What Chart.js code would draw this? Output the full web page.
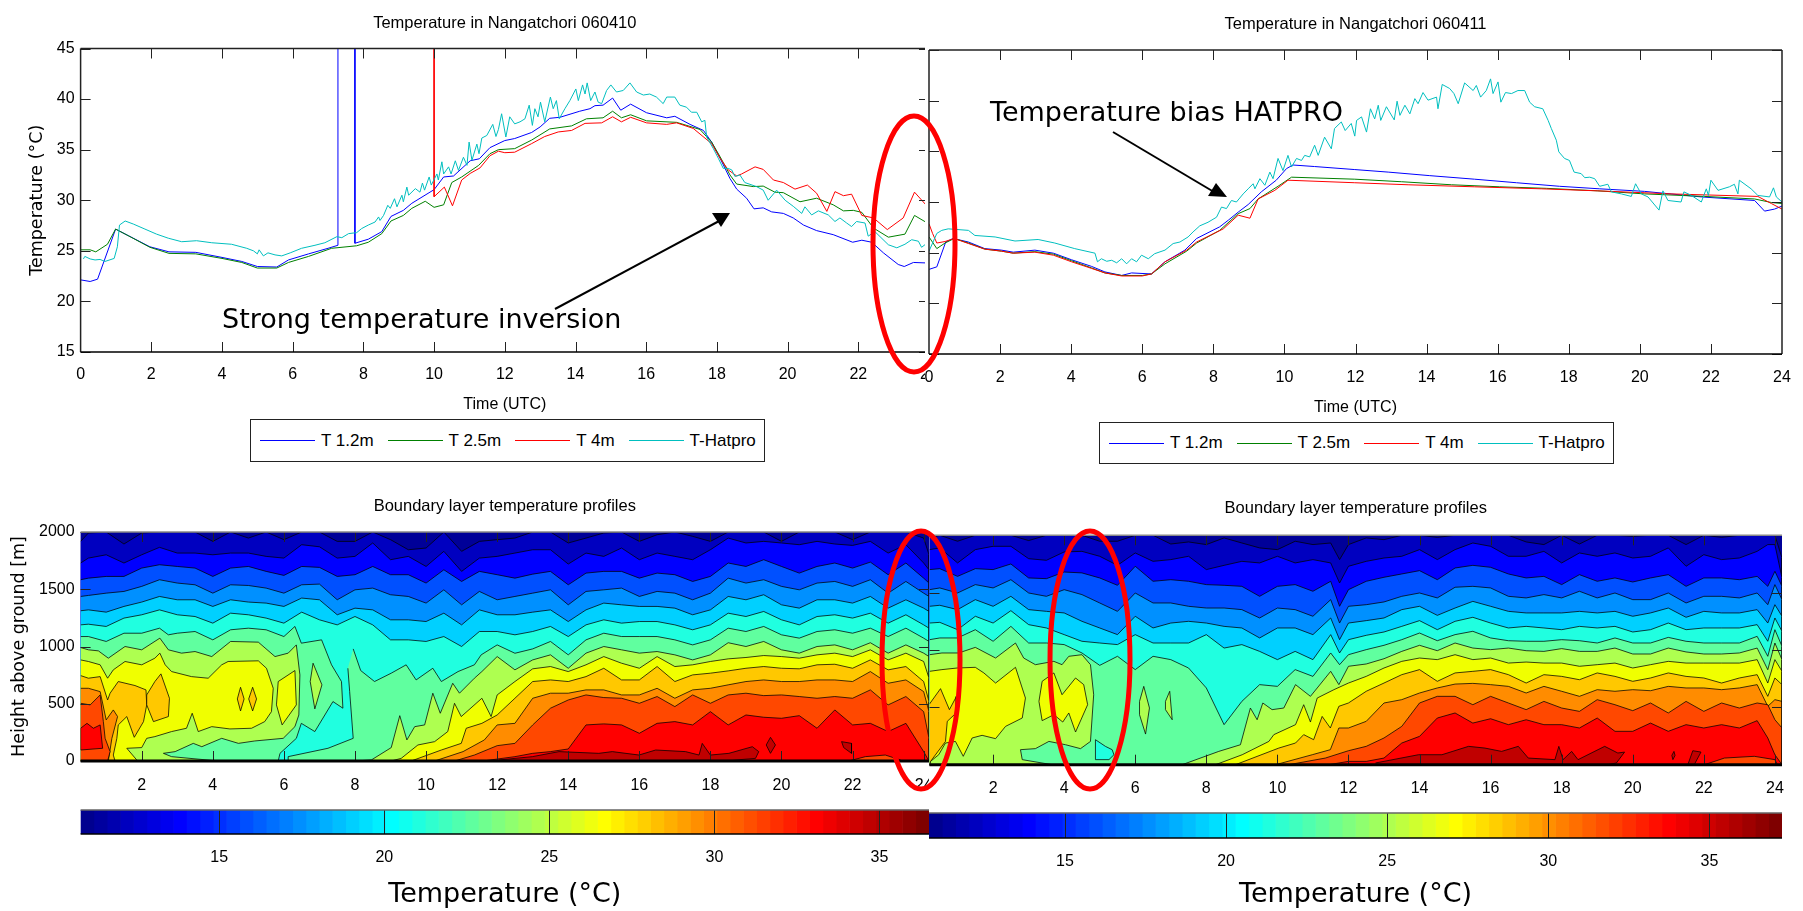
<!DOCTYPE html>
<html>
<head>
<meta charset="utf-8">
<title>Temperature in Nangatchori</title>
<script src="https://cdn.jsdelivr.net/npm/chart.js@4"></script>
<style>
  html, body { margin: 0; background: #fff; }
  #page { position: relative; width: 1803px; height: 911px; overflow: hidden; background: #fff; }
  canvas { position: absolute; background: #fff; }
  .legend { position: absolute; box-sizing: border-box; border: 1.5px solid #222; background: #fff;
            display: flex; align-items: center; padding-left: 9px; white-space: nowrap;
            font: 17px "Liberation Sans", sans-serif; color: #000; }
  .legend i { display: inline-block; flex: none; width: 55px; height: 0; border-top: 1.2px solid; margin-right: 6px; }
  .legend span { flex: none; margin-right: 14px; }
  svg { position: absolute; left: 0; top: 0; pointer-events: none; }
</style>
</head>
<body>
<div id="page">
  <canvas id="panelA" width="935" height="414" style="left:0;top:0"></canvas>
  <canvas id="panelC" width="935" height="320" style="left:0;top:480px"></canvas>
  <canvas id="barA" width="935" height="111" style="left:0;top:800px"></canvas>
  <canvas id="panelB" width="878" height="417" style="left:925px;top:0"></canvas>
  <canvas id="panelD" width="874" height="325" style="left:929px;top:480px"></canvas>
  <canvas id="barB" width="874" height="111" style="left:929px;top:800px"></canvas>
  <div class="legend" id="legendA" style="left:250px;top:419px;width:515px;height:43px"></div>
  <div class="legend" id="legendB" style="left:1099px;top:422px;width:515px;height:42px"></div>
  <svg width="1803" height="911">
    <g fill="none" stroke="#f00" stroke-width="5">
      <ellipse cx="914" cy="244" rx="41" ry="128"/>
      <ellipse cx="921" cy="660" rx="39" ry="129"/>
      <ellipse cx="1090" cy="660" rx="40" ry="129"/>
    </g>
    <g stroke="#000" stroke-width="2">
      <line x1="555" y1="309" x2="721" y2="220"/>
      <line x1="1113" y1="132" x2="1214" y2="192"/>
    </g>
    <polygon points="712,213 730,213 721,227" fill="#000"/>
    <polygon points="1216,183 1208,196 1227,197" fill="#000"/>
    <g font-family="DejaVu Sans" fill="#000">
      <text x="222" y="328" font-size="27">Strong temperature inversion</text>
      <text x="990" y="121" font-size="27">Temperature bias HATPRO</text>
    </g>
  </svg>
</div>

<script>
/* tick labels and names */
const seriesNames = ['T 1.2m', 'T 2.5m', 'T 4m', 'T-Hatpro'];
const seriesColors = ['#0000ff', '#008000', '#ff0000', '#00bfbf'];
const hourTicks = [0, 2, 4, 6, 8, 10, 12, 14, 16, 18, 20, 22, 24];
const tempTicks = [15, 20, 25, 30, 35, 40, 45];
const heightTicks = [0, 500, 1000, 1500, 2000];
const barTicks = [15, 20, 25, 30, 35];

/* 060410 station and radiometer temperatures (°C) */
const hoursA12 = [0,.27,.48,.99,1.35,1.96,2.5,3.26,4,4.56,5,5.55,5.88,6.45,7,7.28,7.28,7.76,7.76,8.14,8.52,8.78,9.13,9.37,10,10.27,10.55,11.02,11.28,11.58,12,12.28,12.76,13,13.27,13.56,14.12,14.41,14.55,14.78,15.05,15.28,15.56,16.01,16.58,16.81,17.24,17.62,17.85,18.09,18.37,18.56,18.84,19.05,19.31,19.55,19.88,20.16,20.45,20.82,21.29,21.84,22.1,22.38,22.71,23.13,23.3,23.56,23.95,24];
const tempsA12 = [22.13,21.97,22.2,27.15,26.5,25.4,24.9,24.85,24.35,23.95,23.45,23.4,24.1,24.7,25.25,25.55,50,50,25.75,26.15,26.9,28.4,29,29.7,31.05,32.3,32.4,33.9,34.1,35.2,35.9,36.1,36.7,37.25,38.1,38.2,38.8,39.05,39.35,39.4,40.1,38.9,39.5,38.65,38.15,38.3,37.5,36.9,35.75,34.15,32.15,31.1,30.2,29.15,29.25,28.85,28.7,28.25,27.55,27,26.6,25.85,26.05,25.85,24.8,23.65,23.45,23.85,23.8,23.5];
const hoursA25 = [0,.27,.43,.76,.99,1.4,1.96,2.5,3.26,4,4.56,5,5.55,5.88,6.45,7.1,7.81,8.14,8.52,8.78,9.13,9.37,9.75,10,10.27,10.5,10.78,11.26,11.58,11.82,12.28,12.76,13.27,13.89,14.31,14.78,15.05,15.3,15.56,16.01,16.86,17.52,17.85,18.09,18.37,18.56,19.03,19.31,19.64,19.88,20.35,20.82,21.29,21.58,21.86,22.1,22.43,22.85,23.32,23.59,24];
const tempsA25 = [25.1,25.1,24.9,25.65,27.15,26.4,25.35,24.75,24.7,24.25,23.85,23.3,23.3,23.85,24.45,25.25,25.5,25.85,26.7,27.95,28.5,29.2,29.9,29.3,29.55,31.75,32.3,33.45,34.6,35,35.1,35.95,37.05,37.35,38.05,38.15,38.8,38.15,38.45,37.85,37.7,37,35.75,34.3,32.5,31.6,31.35,31.4,30.8,30.75,29.85,30.2,29.55,28.95,29,28.8,27.25,26.35,26.65,28.5,27.65];
const hoursA40 = [10,10,10.29,10.52,10.78,11.02,11.3,11.58,11.82,12,12.28,12.76,13.13,13.51,13.89,14.27,14.74,15.05,15.3,15.56,16.01,16.58,16.86,17.33,17.85,18.09,18.32,18.56,18.7,19.08,19.31,19.6,19.88,20.21,20.56,20.82,21.11,21.34,21.58,21.81,22.1,22.43,22.82,23.27,23.59,23.95,24];
const tempsA40 = [50,30.35,31.3,29.45,32,32.65,33.2,34.4,34.85,34.7,34.75,35.6,36.3,36.75,36.9,37.6,37.65,38.25,37.75,38.2,37.65,37.5,37.65,37.1,35.6,34.15,33,32.4,32.6,33.3,33.05,32,31.75,31.1,31.5,30.7,28.9,30.85,30.45,30.6,28.5,28.25,27.1,28.25,30.8,29.4,29];
const hoursAHat = [.08,.12,.27,.41,.55,.69,.95,1.04,1.1,1.26,1.49,1.82,2.15,2.48,2.86,3.28,3.71,4.27,4.7,4.89,5,5.05,5.17,5.3,5.5,5.69,5.93,6.25,6.63,6.91,7.25,7.39,7.58,7.81,7.95,8.14,8.33,8.43,8.47,8.57,8.69,8.76,8.88,8.95,9.09,9.13,9.23,9.28,9.47,9.6,9.67,9.73,9.86,9.92,10.08,10.12,10.22,10.27,10.41,10.48,10.6,10.69,10.83,10.93,10.99,11.07,11.21,11.27,11.35,11.49,11.66,11.75,11.82,11.91,12.03,12.14,12.28,12.43,12.57,12.69,12.78,12.85,12.94,13.01,13.13,13.29,13.37,13.46,13.54,13.7,13.84,14.01,14.08,14.2,14.27,14.33,14.43,14.55,14.64,14.74,14.88,15,15.16,15.35,15.54,15.73,15.92,16.1,16.29,16.48,16.58,16.81,16.95,17.14,17.28,17.43,17.57,17.66,17.71,17.9,18.04,18.18,18.32,18.42,18.51,18.65,18.79,19.12,19.31,19.45,19.69,19.93,20.16,20.4,20.49,20.68,20.87,21.15,21.34,21.48,21.67,21.81,21.95,22.19,22.28,22.47,22.85,23.09,23.32,23.51,23.7,23.79,23.94,23.98];
const tempsAHat = [24.2,24.45,24.2,24.1,24.15,23.95,24.25,25.4,27.55,27.95,27.65,27.15,26.65,26.25,25.9,26,25.8,25.65,25.25,25,24.7,25.1,24.5,24.8,24.6,24.5,24.8,25.25,25.55,25.8,26.4,26.3,26.7,26.8,27.2,27.55,27.85,28.35,28,28.5,29.5,29.2,30.15,29.35,30.5,29.85,31.3,30.5,31.15,30.8,31.7,31,32.3,31.5,32.6,32,33.8,32.6,33.3,32.6,33.9,32.95,34.25,33.45,35.75,33.95,35.55,34.6,36.15,36.4,37.5,36.3,37,38.55,36.25,38.25,37.55,37.75,38.05,39.4,37.4,39.05,38.25,39.7,37.75,40.2,39.05,39.85,38.05,39.05,39.85,41,39.85,41.4,40.5,41.6,39.85,40.7,39.7,39.55,40.85,41.4,40.7,40.85,41.6,40.7,40.4,40.5,40.2,39.55,40.2,40.2,39.4,39.2,38.7,38.7,37.75,37.9,36.25,35.1,34.15,33.15,33.15,33,32.35,32.5,31.75,31.35,31,30,31,30,29.4,28.7,29.35,28.55,28.95,28.55,27.9,28.25,27.75,27.4,27.9,27.75,26.45,26.9,25.6,25.3,25.65,26.1,25.95,25.35,25.75,25.1];

/* 060411 station and radiometer temperatures (°C) */
const hoursB12 = [0,.22,.47,.68,1.11,1.57,2.04,2.37,2.98,3.5,4.01,4.57,4.95,5.42,5.7,6.26,6.64,7.2,7.53,8.18,8.42,8.7,8.98,9.35,9.77,10.06,10.24,10.85,11.98,12.92,14.09,15.35,16.53,17.74,18.87,20.13,21.73,23.23,23.51,23.79,24];
const tempsB12 = [23.35,23.6,26.05,26.4,26.05,25.4,25.25,25.05,25.25,24.95,24.3,23.65,23.1,22.75,23,22.9,24.1,25.25,26.4,27.55,28.2,29,29.75,31,32.15,33.3,33.65,33.5,33.2,32.95,32.6,32.25,31.9,31.55,31.3,31.05,30.5,30.15,29.1,29.3,29.6];
const hoursB25 = [0,.22,.45,.71,1.11,1.57,2.04,2.37,2.98,3.5,4.01,4.57,4.95,5.42,6,6.26,6.64,7.25,7.53,8.18,8.7,9.03,9.26,9.82,10.2,11.98,13.29,14.7,16.06,17.37,18.82,20.13,21.82,23.23,23.7,24];
const tempsB25 = [26.55,25.4,25.95,26.4,25.95,25.35,25.15,24.95,25.1,24.85,24.2,23.5,23,22.75,22.75,22.9,23.9,25.15,25.95,27.2,28.85,29.35,30.3,31.55,32.45,32.25,32,31.7,31.5,31.35,31.1,30.8,30.55,30.3,29.95,29.85];
const hoursB40 = [0,.1,.22,.45,.71,1.11,1.57,2.04,2.37,2.98,3.5,4.01,4.57,4.95,5.42,6,6.26,6.64,7.25,7.53,8.28,8.7,9.03,9.26,9.73,10.1,11.98,13.48,15.35,17.23,18.82,20.88,23.32,23.7,24];
const tempsB40 = [27.85,26.9,25.95,26.1,26.4,25.9,25.35,25.15,24.95,25.05,24.75,24.1,23.45,23,22.7,22.7,22.9,24.1,25.25,26.05,27.35,28.7,28.4,30.3,31.15,32.15,31.9,31.7,31.5,31.3,31.1,30.8,30.55,29.85,29.3];
const hoursBHat = [0,.22,.36,.54,1.11,1.29,1.86,2.42,3.07,3.54,4.1,4.67,4.74,4.85,5,5.14,5.28,5.42,5.56,5.7,5.84,5.98,6.17,6.35,6.64,6.87,7.06,7.29,7.43,7.62,7.85,8.09,8.23,8.37,8.51,8.65,8.84,8.98,9.12,9.17,9.31,9.45,9.59,9.68,9.82,9.96,10.1,10.2,10.34,10.48,10.57,10.71,10.85,10.95,11.13,11.32,11.41,11.6,11.71,11.88,11.98,12.03,12.17,12.31,12.42,12.54,12.64,12.71,12.87,13.09,13.17,13.25,13.39,13.53,13.67,13.76,13.9,14.04,14.28,14.32,14.44,14.65,14.77,14.89,15.07,15.31,15.4,15.52,15.68,15.8,15.87,16.01,16.09,16.22,16.39,16.57,16.76,16.9,17.04,17.27,17.42,17.51,17.65,17.72,17.88,18.02,18.15,18.35,18.45,18.59,18.73,18.87,19.1,19.2,19.48,19.76,19.88,20.04,20.23,20.54,20.65,20.79,21.16,21.24,21.45,21.73,21.87,21.93,22,22.2,22.52,22.66,22.76,22.8,23.13,23.32,23.65,23.76,23.84,24];
const tempsBHat = [25.15,26.9,27.2,27.35,27.2,26.7,26.55,26.15,26.3,25.95,25.4,24.95,24.1,24.4,24.15,24.25,24,24.4,23.9,24.4,24.1,24.75,24.4,24.9,25.25,25.9,26.05,26.55,27.05,27.65,28,28.5,29.5,29.35,30.15,30,30.8,31.3,31.8,31.3,32.3,31.65,32.95,32.3,34.3,33.1,34.6,33.45,34.3,34.1,34.6,34.45,35.6,34.6,36.4,35.25,37.25,37.9,37.05,37.75,36.5,38.05,38.4,36.9,39.2,38.2,39.55,38.05,39.4,38.1,39.95,38.55,39.55,38.7,40.2,39.7,40.8,40.05,40.35,39.2,41.6,41.2,40.7,39.7,41.75,41,41.5,40.35,41,42.15,40.7,41.85,39.85,40.8,40.7,41,41,39.85,39.4,39.2,38.05,37.25,36.1,34.95,34.3,34.1,32.95,32.8,32.4,32.45,32.3,31.55,31.75,31,30.8,30.55,31.8,30.8,30.5,29.2,31.1,30.15,30,31,30.65,30,31.3,30.65,32.15,31.15,31.5,31.75,30.8,32.15,31.3,30.65,30.5,31.4,30.5,30];

/* boundary layer contours, 060410: heights (m) of each temperature level */
const earlyC = [.28,.5,1,1.5,2,2.5,3,3.5,4,4.5,5,5.5,6,6.5,7,7.5,8,8.5,9,9.5,10,10.5,11,11.5,12];
const lateC = [12.5,13,13.5,14,14.5,15,15.5,16,16.5,17,17.5,18,18.5,19,19.5,20,20.5,21,21.5,22,22.5,23,23.5,24,24.15];
const levelCTop = [1918,1991,2000,1895,1991,2000,2000,2000,1918,2000,1947,2000,1933,2000,2000,1918,1918,2000,1933,1845,1860,2000,1831,1918,1933,1947,2000,2000,1904,1947,1991,2000,1918,1976,2000,1962,1918,2000,2000,2000,1918,2000,2000,2000,1933,2000,2000,2000,1947,1801];
const levelC0 = [1729,1772,1801,1729,1801,1866,1816,1816,1801,1816,1816,1787,1772,1889,1871,1772,1787,1904,1758,1787,1699,1831,1656,1772,1787,1816,1845,1845,1720,1816,1787,1860,1758,1816,1787,1758,1845,1947,1904,1918,1904,1889,1918,1895,1883,1918,1816,1889,1729,1670];
const levelC1 = [1583,1597,1612,1612,1685,1714,1699,1685,1612,1685,1699,1656,1621,1699,1691,1612,1627,1699,1627,1627,1554,1670,1568,1656,1627,1597,1632,1656,1539,1641,1656,1656,1597,1641,1627,1568,1612,1729,1699,1758,1699,1641,1699,1729,1685,1737,1627,1729,1597,1554];
const levelC2 = [1437,1446,1466,1481,1525,1583,1554,1539,1466,1539,1533,1510,1466,1539,1545,1408,1495,1510,1452,1437,1379,1495,1364,1481,1408,1437,1466,1495,1364,1481,1495,1510,1437,1481,1466,1408,1466,1597,1554,1583,1525,1495,1554,1568,1525,1583,1466,1568,1466,1437];
const levelC3 = [1312,1320,1300,1350,1388,1437,1408,1408,1350,1408,1388,1379,1350,1423,1408,1277,1335,1320,1233,1233,1218,1291,1189,1320,1277,1277,1300,1320,1218,1320,1379,1364,1350,1350,1335,1277,1320,1437,1408,1452,1364,1335,1408,1408,1379,1437,1335,1408,1335,1306];
const levelC4 = [1189,1195,1175,1248,1277,1320,1277,1262,1204,1291,1277,1248,1204,1300,1233,1189,1262,1189,1058,1058,1044,1087,1000,1131,1131,1102,1131,1175,1087,1189,1233,1204,1218,1218,1189,1146,1189,1291,1262,1306,1233,1189,1262,1277,1248,1291,1204,1277,1189,1160];
const hoursC5West = [.28,.5,1,1.5,2,2.5,2.75,3,3.5,4,4.5,5,5.5,6,6.31,6.49,7.06,7.34,7.62,7.66,7.38,6.87,6.49,6.35,5.89,5.84,.28];
const levelC5West = [1087,1087,1044,1116,1116,1160,1102,1116,1131,1058,1146,1160,1146,1087,1175,1029,1058,840,694,461,519,257,329,198,67,0,0];
const hoursC5East = [7.95,8.16,8.55,9.02,9.44,9.72,10.19,10.43,10.9,11.36,11.55,12,...lateC,24.15,6.12,6.12,7.24,7.95,7.85,7.8];
const levelC5East = [979,790,694,767,840,708,810,694,781,840,927,1014,941,979,1044,927,1058,1116,1087,1087,1087,1058,1014,1058,1160,1131,1175,1102,1073,1131,1146,1116,1160,1087,1160,1073,1044,0,0,38,111,198,606,810];
const hoursC6Oval = [6.82,7.07,6.87,6.74,6.82];
const levelC6Oval = [854,665,455,694,854];
const hoursC6West = [.28,.5,.78,1.06,1.53,2,2.51,2.75,3.12,3.5,3.97,4.5,5.28,5.75,6.12,6.35,6.45,6.42,6.31,5.98,5.18,4.72,4.25,3.69,3.45,2.94,2.61,2.84,4.15,.28];
const levelC6West = [991,971,962,898,1000,971,1073,971,942,956,912,1044,1038,912,942,1014,752,402,300,198,175,154,198,125,154,82,67,38,0,0];
const hoursC6East = [7.98,8.46,9.02,9.26,9.46,9.68,9.96,10.19,10.4,10.75,10.94,11.36,11.57,12,...lateC,24.15];
const levelC6East = [0,9,117,396,184,300,315,592,417,679,592,723,781,912,796,883,927,810,942,1000,971,942,956,927,883,927,1033,1000,1044,971,942,1000,1014,971,1033,942,1014,942,912,0];
const hoursC7West = [.28,.5,.83,1.04,1.2,1.53,2,2.37,2.51,2.66,2.84,3.4,3.87,4.25,4.43,5.28,5.51,5.7,5.65,5.46,5.09,4.48,3.97,3.59,3.42,3.26,2.84,2.37,2.14,2,1.58,1.86,1.86,.28];
const levelC7West = [883,869,840,723,796,869,840,898,942,840,781,737,723,840,869,875,810,635,431,344,286,280,300,257,417,286,257,213,198,117,111,9,0,0];
const hoursC7East = [9.02,9.3,9.77,10.24,10.61,10.8,10.99,11.57,11.83,12,...lateC,24.15];
const levelC7East = [0,23,140,169,257,504,388,548,388,577,694,805,825,781,840,912,854,810,912,825,840,869,892,904,921,912,898,927,942,912,971,883,942,869,723,0];
const hoursC7Oval = [5.84,6.31,6.35,5.95,5.79,5.84];
const levelC7Oval = [694,790,490,315,490,694];
const hoursC8West = [.28,.5,.83,1.04,1.11,1.34,1.81,2.12,2.14,2.05,1.79,1.58,1.34,1.3,1.2,1.25,.28];
const levelC8West = [746,723,737,533,592,694,659,621,490,344,207,388,315,198,52,0,0];
const hoursC8Lobe = [2.14,2.37,2.54,2.78,2.75,2.33,2.14,2.14];
const levelC8Lobe = [577,694,761,548,388,344,490,577];
const hoursC8OvalA = [4.78,4.88,4.78,4.69,4.78];
const levelC8OvalA = [644,542,437,542,644];
const hoursC8OvalB = [5.12,5.23,5.12,5.01,5.12];
const levelC8OvalB = [644,542,437,542,644];
const hoursC8East = [9.58,10.43,10.99,11.13,11.57,12,...lateC,24.15];
const levelC8East = [0,96,154,286,329,402,548,694,708,694,737,810,708,708,825,694,752,767,787,810,825,810,805,840,845,810,883,796,825,694,519,0];
const hoursC9West = [.28,.5,.83,1,1.2,1.32,1.16,1.06,.28];
const levelC9West = [635,635,606,359,446,388,198,0,0];
const hoursC9East = [10.24,11.04,11.64,12,...lateC,24.15];
const levelC9East = [0,82,184,315,329,548,592,592,621,621,577,577,635,548,621,635,665,694,708,694,694,708,708,694,781,679,708,606,431,0];
const hoursC10West = [.28,.55,.83,.92,.97,1.11,1.04,.28];
const levelC10West = [504,490,577,344,198,82,0,0];
const hoursC10East = [10.8,11.36,12,...lateC,24.15];
const levelC10East = [0,52,134,154,315,461,533,577,554,548,504,563,475,577,504,577,592,571,577,563,548,563,548,621,490,563,431,198,0];
const hoursC11West = [.28,.46,.64,.83,.9,.28,.28];
const levelC11West = [286,329,286,315,111,96,286];
const hoursC11East = [11.6,12,...lateC];
const levelC11East = [0,17,38,67,82,105,315,324,315,242,329,344,315,431,315,402,382,373,396,286,446,315,329,257,329,82,0];
const hoursC10Sliver = [21.89,22.36,22.92,23.35,23.35];
const levelC10Sliver = [0,38,52,9,0];
const hoursC12 = [12.05,12.99,13.74,14.86,15.24,15.99,16.46,17.3,17.68,17.77,18,18.52,19.18,19.36,19.27,18.61,12.05];
const levelC12 = [9,38,82,67,82,52,96,82,52,154,52,67,125,82,23,6,0];
const hoursC12OvalA = [19.69,19.83,19.69,19.57,19.69];
const levelC12OvalA = [207,140,67,140,207];
const hoursC12OvalB = [21.69,21.97,21.97,21.75,21.69];
const levelC12OvalB = [169,154,67,117,169];

/* boundary layer contours, 060411 */
const earlyD = [.21,.5,1,1.5,2,2.5,3,3.5,4,4.5,5,5.5,6,6.5,7,7.5,8,8.5,9,9.5,10,10.5,11,11.5,11.75,12];
const lateD = [12.5,13,13.5,14,14.5,15,15.5,16,16.5,17,17.5,18,18.5,19,19.5,20,20.5,21,21.5,22,22.5,23,23.5,23.8,24,24.2];
const levelDTop = [1977,2000,1948,2000,2000,2000,1954,2000,2000,2000,1948,1948,2000,2000,1924,1942,1919,1977,1933,1890,1875,1948,1919,1933,1788,1919,1977,1962,2000,2000,1982,2000,2000,2000,2000,1942,1919,2000,1924,2000,2000,1991,2000,2000,1919,2000,1982,2000,2000,2000,2000,1802];
const levelD0 = [1875,1890,1759,1875,1904,1904,1796,1782,1855,1860,1817,1738,1846,1773,1788,1817,1701,1738,1773,1759,1817,1759,1788,1759,1584,1730,1773,1802,1817,1875,1788,1875,1933,1904,1817,1817,1860,1759,1846,1817,1846,1802,1817,1890,1730,1831,1788,1802,1860,1919,1919,1628];
const levelD1 = [1701,1709,1642,1709,1701,1750,1628,1622,1680,1672,1628,1564,1730,1599,1613,1599,1570,1564,1555,1468,1555,1570,1512,1599,1381,1526,1599,1634,1663,1692,1613,1715,1738,1721,1663,1628,1642,1570,1657,1599,1628,1593,1628,1657,1555,1628,1628,1613,1642,1555,1686,1555];
const levelD2 = [1526,1541,1497,1570,1541,1613,1497,1468,1526,1483,1410,1337,1497,1410,1410,1381,1366,1366,1352,1279,1366,1352,1294,1439,1235,1381,1395,1419,1468,1497,1454,1547,1555,1541,1468,1454,1483,1454,1512,1454,1497,1439,1439,1497,1410,1468,1468,1454,1497,1395,1570,1439];
const levelD3 = [1381,1390,1352,1439,1381,1468,1352,1337,1323,1250,1192,1134,1294,1192,1235,1250,1235,1206,1192,1105,1192,1192,1134,1279,1090,1235,1256,1279,1352,1381,1302,1366,1424,1381,1337,1323,1323,1323,1337,1323,1337,1294,1323,1366,1285,1337,1323,1323,1352,1235,1395,1294];
const levelD4 = [1235,1241,1177,1294,1235,1343,1221,1192,1134,1076,1061,1047,1134,1061,1061,1061,1134,1017,1047,988,916,988,916,1134,974,1090,1128,1157,1206,1256,1177,1250,1285,1235,1192,1206,1192,1177,1206,1192,1206,1157,1177,1235,1177,1192,1192,1192,1221,1076,1279,1163];
const levelD5 = [1090,1105,1105,1177,1076,1206,1061,1061,1047,974,866,945,829,945,916,843,669,349,552,698,683,829,770,974,872,959,1003,1041,1090,1148,1081,1134,1163,1105,1081,1076,1076,1090,1081,1061,1105,1061,1061,1110,1076,1061,1061,1061,1119,945,1177,1032];
const hoursD4Pocket = [4.88,5.16,5.35,5.4,5.26,4.88,4.88];
const levelD4Pocket = [218,160,131,87,44,44,218];
const hoursD6West = [.21,.56,1.03,1.5,2.07,2.63,2.86,3.19,3.71,3.94,4.13,4.5,4.74,4.83,4.74,4.46,4.04,3.57,3.19,2.77,2.82,3.66,.21];
const levelD6West = [959,974,974,1023,930,1061,930,872,901,872,945,959,872,610,203,140,174,203,140,131,44,0,0];
const hoursD6OvalA = [6.24,6.4,6.29,6.12,6.12,6.24];
const levelD6OvalA = [683,494,267,436,552,683];
const hoursD6OvalB = [6.97,7.04,6.85,6.85,6.97];
const levelD6OvalB = [640,392,480,552,640];
const hoursD6East = [7.32,8.35,8.96,9.24,9.43,9.59,9.85,10.18,10.51,10.93,11.5,11.73,12,...lateD,24.2];
const levelD6East = [0,116,174,494,392,538,480,494,698,596,814,698,858,878,924,988,1041,994,1061,1017,1003,1017,994,988,1012,988,988,1017,965,965,1017,983,965,965,974,1017,828,1061,916,0];
const hoursD7West = [.21,.56,.99,1.5,1.74,2.07,2.63,2.91,2.82,2.35,2.07,1.69,1.41,1.16,.94,.66,.47,.24,.21];
const levelD7West = [814,829,843,849,800,712,849,581,407,334,227,256,233,73,203,189,87,29,0];
const hoursD7Blob = [3.38,3.71,3.94,4.32,4.55,4.66,4.32,4.13,3.96,3.71,3.38,3.29,3.38];
const levelD7Blob = [727,800,610,756,698,523,285,451,372,436,384,552,727];
const hoursD7East = [8.26,9.01,9.76,9.9,10.51,10.74,10.93,11.12,11.59,12,...lateD,24.2];
const levelD7East = [0,87,203,262,349,523,372,581,654,712,770,843,901,930,916,959,916,930,886,895,886,886,858,872,886,843,872,901,886,886,886,886,916,712,916,814,0];
const hoursD8West = [.21,.52,.77,.97,.96,.71,.66,.24,.21];
const levelD8West = [529,663,480,596,451,378,203,29,0];
const hoursD8East = [8.82,10.04,10.51,10.74,11.02,11.26,11.49,11.73,12,...lateD,24.2];
const levelD8East = [0,145,189,262,218,421,320,509,538,640,712,785,829,727,800,814,829,785,712,785,770,741,800,770,727,756,800,770,756,712,756,785,596,756,698,0];
const hoursD9East = [9.95,10.98,11.49,11.73,12,...lateD,24.2];
const levelD9East = [0,87,131,320,320,378,538,567,625,669,703,709,698,683,625,683,640,596,654,640,654,645,683,669,669,654,669,698,509,567,552,0];
const hoursD10East = [10.32,11.35,12,...lateD,24.2];
const levelD10East = [0,58,122,160,233,334,538,596,596,523,596,538,480,552,494,465,567,523,471,538,451,552,465,538,494,538,523,392,320,0];
const hoursD11East = [11.45,12,...lateD];
const levelD11East = [0,29,29,58,189,247,407,451,363,401,349,392,349,349,320,407,291,291,363,291,349,320,349,320,384,233,87,0];
const hoursD10Sliver = [22.02,22.58,23.42,24,24.07];
const levelD10Sliver = [0,58,73,44,0];
const hoursD12 = [12.76,13.97,14.63,15.38,15.84,16.31,16.78,17.06,17.81,17.92,18.04,18.28,18.46,19.21,19.58,19.77,19.54,19.3,12.76];
const levelD12 = [15,87,87,160,145,116,160,58,44,160,44,116,44,160,102,110,15,0,0];
const hoursD12OvalA = [21.16,21.19,21.13,21.1,21.16];
const levelD12OvalA = [116,81,44,81,116];
const hoursD12OvalB = [21.69,21.92,21.73,21.55,21.69];
const levelD12OvalB = [122,110,0,0,122];

/* colour of each contour band, coldest first */
const bandColors = ['#0000c0','#0000ff','#0050ff','#0090ff','#00d0ff','#20ffe0','#60ff9f','#aeff50','#f0ff00','#ffc800','#ff8c00','#ff4800','#ff0000','#c00000'];
const coldestColor = '#000098';
/* colorbar steps */
const jetColors = ['#00008F','#00009F','#0000AF','#0000BF','#0000CF','#0000DF','#0000EF','#0000FF','#000FFF','#001FFF','#002FFF','#003FFF','#004FFF','#005FFF','#006FFF','#007FFF','#008FFF','#009FFF','#00AFFF','#00BFFF','#00CFFF','#00DFFF','#00EFFF','#00FFFF','#0FFFEF','#1FFFDF','#2FFFCF','#3FFFBF','#4FFFAF','#5FFF9F','#6FFF8F','#7FFF7F','#8FFF6F','#9FFF5F','#AFFF4F','#BFFF3F','#CFFF2F','#DFFF1F','#EFFF0F','#FFFF00','#FFEF00','#FFDF00','#FFCF00','#FFBF00','#FFAF00','#FF9F00','#FF8F00','#FF7F00','#FF6F00','#FF5F00','#FF4F00','#FF3F00','#FF2F00','#FF1F00','#FF0F00','#FF0000','#EF0000','#DF0000','#CF0000','#BF0000','#AF0000','#9F0000','#8F0000','#7F0000'];

const TEXT_FONT = 'Liberation Sans';
const WIDE_FONT = 'DejaVu Sans';
const plainTick = v => String(v);

function zip(xs, ys) {
  if (xs.length !== ys.length) throw new Error('length mismatch ' + xs.length + ' ' + ys.length + ' at ' + xs[0] + ',' + ys[0]);
  return xs.map((x, i) => ({ x, y: ys[i] }));
}

// Frame, inward ticks and the colour behind the contours
const panelFrame = {
  id: 'panelFrame',
  beforeDatasetsDraw(chart, args, o) {
    if (!o.area) return;
    const a = chart.chartArea, ctx = chart.ctx;
    ctx.save();
    ctx.fillStyle = o.area;
    ctx.fillRect(a.left, a.top, a.width, a.height);
    ctx.restore();
  },
  afterDatasetsDraw(chart, args, o) {
    const a = chart.chartArea, ctx = chart.ctx, x = chart.scales.x, y = chart.scales.y;
    ctx.save();
    ctx.strokeStyle = o.tickColor || '#222';
    ctx.lineWidth = 1;
    ctx.beginPath();
    x.ticks.forEach(t => {
      const px = Math.round(x.getPixelForValue(t.value)) + .5;
      if (px < a.left + 1 || px > a.right - 1) return;
      ctx.moveTo(px, a.bottom); ctx.lineTo(px, a.bottom - o.tick);
      ctx.moveTo(px, a.top); ctx.lineTo(px, a.top + o.tick);
    });
    if (o.yTicks) y.ticks.forEach(t => {
      const py = Math.round(y.getPixelForValue(t.value)) + .5;
      ctx.moveTo(a.left, py); ctx.lineTo(a.left + o.tick, py);
      ctx.moveTo(a.right, py); ctx.lineTo(a.right - o.tick, py);
    });
    ctx.stroke();
    ctx.lineWidth = 1.5;
    ctx.strokeStyle = o.topColor;
    ctx.beginPath(); ctx.moveTo(a.left, a.top); ctx.lineTo(a.right, a.top); ctx.stroke();
    ctx.strokeStyle = o.sideColor;
    ctx.beginPath(); ctx.moveTo(a.left, a.top); ctx.lineTo(a.left, a.bottom);
    ctx.moveTo(a.right, a.top); ctx.lineTo(a.right, a.bottom); ctx.stroke();
    ctx.lineWidth = o.bottomWidth;
    ctx.strokeStyle = '#000';
    ctx.beginPath(); ctx.moveTo(a.left, a.bottom); ctx.lineTo(a.right, a.bottom); ctx.stroke();
    ctx.restore();
  },
};

const fitX = h => s => { s.height = h; s.paddingLeft = 0; s.paddingRight = 0; };
const fitY = w => s => { s.width = w; s.paddingTop = 0; s.paddingBottom = 0; };

// box = canvas placement, plot = wanted chart area, both in page pixels
function panelOptions(cfg) {
  const { box, plot, xMin, xMax, yMin, yMax, xTicks, yTicks, title, titleY, xTitle, yTitle, labelCenter, frame } = cfg;
  const titleSize = 16.5, lh = titleSize * 1.2;
  return {
    responsive: false,
    animation: false,
    events: [],
    layout: { padding: { right: box.left + box.w - plot.r } },
    plugins: {
      legend: { display: false },
      tooltip: { enabled: false },
      title: {
        display: true, text: title, fullSize: false, color: '#000',
        font: { family: TEXT_FONT, size: titleSize, weight: 'normal' },
        padding: { top: titleY - lh / 2 - box.top, bottom: plot.t - titleY - lh / 2 },
      },
      panelFrame: frame,
    },
    scales: {
      x: {
        type: 'linear', min: xMin, max: xMax,
        afterBuildTicks: s => { s.ticks = xTicks.map(value => ({ value })); },
        afterFit: fitX(box.top + box.h - plot.b),
        grid: { display: false, drawTicks: false },
        border: { display: false },
        ticks: { autoSkip: false, maxRotation: 0, padding: labelCenter - plot.b - 9.6, color: '#000', font: { family: TEXT_FONT, size: 16 }, callback: plainTick },
        title: xTitle ? { display: true, text: xTitle, color: '#000', padding: 0, font: { family: TEXT_FONT, size: 16 } } : { display: false },
      },
      y: {
        type: 'linear', min: yMin, max: yMax,
        afterBuildTicks: s => { s.ticks = yTicks.map(value => ({ value })); },
        afterFit: fitY(plot.l - box.left),
        grid: { display: false, drawTicks: false },
        border: { display: false },
        ticks: { display: plot.l - box.left > 20, padding: 6, color: '#000', font: { family: TEXT_FONT, size: 16 }, callback: plainTick },
        title: yTitle ? { display: true, text: yTitle.text, color: '#000', padding: { top: yTitle.pad, bottom: 0 }, font: { family: WIDE_FONT, size: 17.5 } } : { display: false },
      },
    },
  };
}

// Time series panel
function linePanel(id, cfg, series) {
  new Chart(document.getElementById(id), {
    type: 'scatter',
    data: {
      datasets: series.map(([xs, ys], i) => ({
        label: seriesNames[i],
        data: zip(xs, ys),
        showLine: true, fill: false, tension: 0,
        borderColor: seriesColors[i], borderWidth: 1, pointRadius: 0,
        order: series.length - i,
      })),
    },
    options: panelOptions(Object.assign({
      xMin: 0, xMax: 24, yMin: 15, yMax: 45, xTicks: hourTicks, yTicks: tempTicks, xTitle: 'Time (UTC)',
      frame: { tick: 10, yTicks: true, bottomWidth: 1.5, topColor: '#222', sideColor: '#222' },
    }, cfg)),
    plugins: [panelFrame],
  });
}

// Contour panel: filled shapes, painted back to front
function contourPanel(id, cfg, layers) {
  new Chart(document.getElementById(id), {
    type: 'scatter',
    data: {
      datasets: layers.map(([xs, ys, band], i) => ({
        data: zip(xs, ys),
        showLine: true, fill: 'shape', tension: 0,
        backgroundColor: bandColors[band],
        borderColor: 'rgba(0,0,0,.75)', borderWidth: 1, pointRadius: 0,
        order: layers.length - i,
      })),
    },
    options: panelOptions(Object.assign({
      yMin: 0, yMax: 2000, xTicks: hourTicks.slice(1), yTicks: heightTicks,
      frame: { area: coldestColor, tick: 10, yTicks: true, bottomWidth: 3, topColor: '#888', sideColor: 'rgba(0,0,0,0)' },
    }, cfg)),
    plugins: [panelFrame],
  });
}

// Level line reaching across the whole panel, closed down to the ground
function acrossC(ys) { return [[...earlyC, ...lateC, 24.15, .28], [...ys, 0, 0]]; }
function acrossD(ys) { return [[...earlyD, ...lateD, 24.2, .21], [...ys, 0, 0]]; }

function colorBar(id, box, plot, xMin, xMax, labelCenter) {
  const step = (xMax - xMin) / jetColors.length;
  new Chart(document.getElementById(id), {
    type: 'bar',
    data: {
      labels: [''],
      datasets: jetColors.map((c, i) => ({
        data: [[xMin + i * step, xMin + (i + 1) * step]],
        backgroundColor: c, borderWidth: 0, barPercentage: 1, categoryPercentage: 1,
      })),
    },
    options: {
      indexAxis: 'y',
      responsive: false,
      animation: false,
      events: [],
      layout: { padding: { top: plot.t - box.top, left: plot.l - box.left, right: box.left + box.w - plot.r } },
      plugins: {
        legend: { display: false },
        tooltip: { enabled: false },
        panelFrame: { tick: plot.b - plot.t, yTicks: false, bottomWidth: 1.5, topColor: '#666', sideColor: 'rgba(0,0,0,0)', tickColor: '#222' },
      },
      scales: {
        x: {
          type: 'linear', min: xMin, max: xMax,
          afterBuildTicks: s => { s.ticks = barTicks.map(value => ({ value })); },
          afterFit: fitX(box.top + box.h - plot.b),
          grid: { display: false, drawTicks: false },
          border: { display: false },
          ticks: { autoSkip: false, maxRotation: 0, padding: labelCenter - plot.b - 9.6, color: '#000', font: { family: TEXT_FONT, size: 16 }, callback: plainTick },
          title: { display: true, text: 'Temperature (°C)', color: '#000', padding: 0, font: { family: WIDE_FONT, size: 27 } },
        },
        y: { display: false, stacked: true },
      },
    },
    plugins: [panelFrame],
  });
}

linePanel('panelA', {
  box: { left: 0, top: 0, w: 935, h: 414 }, plot: { l: 80.6, t: 48.5, r: 929, b: 352 },
  title: 'Temperature in Nangatchori 060410', titleY: 23, labelCenter: 375,
  yTitle: { text: 'Temperature (°C)', pad: 27 },
}, [[hoursA12, tempsA12], [hoursA25, tempsA25], [hoursA40, tempsA40], [hoursAHat, tempsAHat]]);

linePanel('panelB', {
  box: { left: 925, top: 0, w: 878, h: 417 }, plot: { l: 929, t: 50, r: 1782, b: 354 },
  title: 'Temperature in Nangatchori 060411', titleY: 24, labelCenter: 378,
}, [[hoursB12, tempsB12], [hoursB25, tempsB25], [hoursB40, tempsB40], [hoursBHat, tempsBHat]]);

contourPanel('panelC', {
  box: { left: 0, top: 480, w: 935, h: 320 }, plot: { l: 80.6, t: 532, r: 929, b: 761 },
  xMin: .28, xMax: 24.15,
  title: 'Boundary layer temperature profiles', titleY: 506, labelCenter: 786,
  yTitle: { text: 'Height above ground [m]', pad: 9 },
}, [
  [...acrossC(levelCTop), 0], [...acrossC(levelC0), 1], [...acrossC(levelC1), 2], [...acrossC(levelC2), 3],
  [...acrossC(levelC3), 4], [...acrossC(levelC4), 5],
  [hoursC5West, levelC5West, 6], [hoursC5East, levelC5East, 6], [hoursC6Oval, levelC6Oval, 7],
  [hoursC6West, levelC6West, 7], [hoursC6East, levelC6East, 7],
  [hoursC7West, levelC7West, 8], [hoursC7East, levelC7East, 8], [hoursC7Oval, levelC7Oval, 8],
  [hoursC8West, levelC8West, 9], [hoursC8Lobe, levelC8Lobe, 9], [hoursC8OvalA, levelC8OvalA, 9], [hoursC8OvalB, levelC8OvalB, 9],
  [hoursC8East, levelC8East, 9],
  [hoursC9West, levelC9West, 10], [hoursC9East, levelC9East, 10],
  [hoursC10West, levelC10West, 11], [hoursC10East, levelC10East, 11],
  [hoursC11West, levelC11West, 12], [hoursC11East, levelC11East, 12], [hoursC10Sliver, levelC10Sliver, 11],
  [hoursC12, levelC12, 13], [hoursC12OvalA, levelC12OvalA, 13], [hoursC12OvalB, levelC12OvalB, 13],
]);

contourPanel('panelD', {
  box: { left: 929, top: 480, w: 874, h: 325 }, plot: { l: 929.5, t: 535.3, r: 1782, b: 764.7 },
  xMin: .21, xMax: 24.2,
  title: 'Boundary layer temperature profiles', titleY: 508, labelCenter: 789,
}, [
  [...acrossD(levelDTop), 0], [...acrossD(levelD0), 1], [...acrossD(levelD1), 2], [...acrossD(levelD2), 3],
  [...acrossD(levelD3), 4], [...acrossD(levelD4), 5], [...acrossD(levelD5), 6],
  [hoursD4Pocket, levelD4Pocket, 5], [hoursD6OvalA, levelD6OvalA, 7], [hoursD6OvalB, levelD6OvalB, 7],
  [hoursD6West, levelD6West, 7], [hoursD6East, levelD6East, 7],
  [hoursD7West, levelD7West, 8], [hoursD7Blob, levelD7Blob, 8], [hoursD7East, levelD7East, 8],
  [hoursD8West, levelD8West, 9], [hoursD8East, levelD8East, 9],
  [hoursD9East, levelD9East, 10], [hoursD10East, levelD10East, 11], [hoursD11East, levelD11East, 12],
  [hoursD10Sliver, levelD10Sliver, 11],
  [hoursD12, levelD12, 13], [hoursD12OvalA, levelD12OvalA, 13], [hoursD12OvalB, levelD12OvalB, 13],
]);

colorBar('barA', { left: 0, top: 800, w: 935, h: 111 }, { l: 80.6, t: 810, r: 929, b: 834 }, 10.8, 36.5, 858);
colorBar('barB', { left: 929, top: 800, w: 874, h: 111 }, { l: 929, t: 813, r: 1782, b: 838 }, 10.78, 37.25, 862);

['legendA', 'legendB'].forEach(id => {
  document.getElementById(id).innerHTML = seriesNames
    .map((n, i) => `<i style="border-color:${seriesColors[i]}"></i><span>${n}</span>`).join('');
});
</script>
</body>
</html>
